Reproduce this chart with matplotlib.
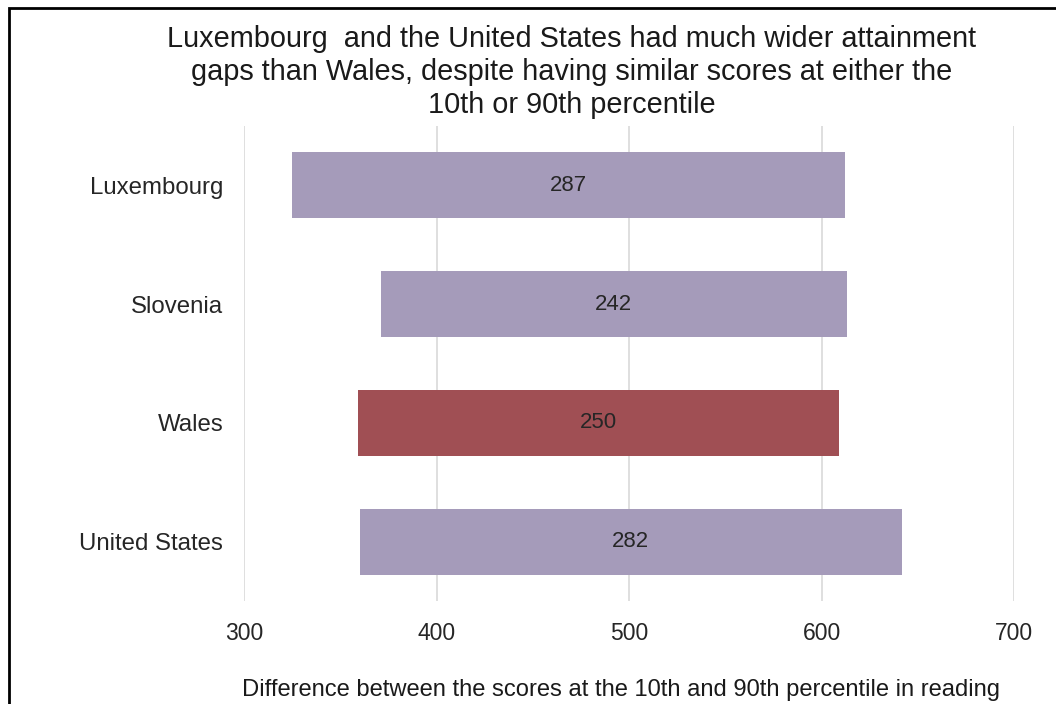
import matplotlib
matplotlib.use("Agg")
import matplotlib.pyplot as plt
from matplotlib.patches import Rectangle

plt.rcParams['font.family'] = ['Liberation Sans', 'DejaVu Sans']

# Reading scores at the 10th and 90th percentile, and the gap between them
countries = ["Luxembourg", "Slovenia", "Wales", "United States"]
p10 = [325, 371, 359, 360]
gap = [287, 242, 250, 282]
bar_colors = ["#A59BBA", "#A59BBA", "#A04F54", "#A59BBA"]
x_ticks = [300, 400, 500, 600, 700]

title_lines = ["Luxembourg  and the United States had much wider attainment",
               "gaps than Wales, despite having similar scores at either the",
               "10th or 90th percentile"]
xlabel = "Difference between the scores at the 10th and 90th percentile in reading"

W, H = 1056, 704
fig = plt.figure(figsize=(W / 100, H / 100), dpi=100)
fig.patch.set_facecolor("white")

# outer frame
fig.add_artist(Rectangle((9 / W, -0.05), 1.1, 1 - 8 / H + 0.05,
                         transform=fig.transFigure, fill=False,
                         edgecolor="black", linewidth=2))

ax = fig.add_axes([244 / W, 1 - 601 / H, 770 / W, 475 / H])
ypos = list(range(len(countries)))
ax.barh(ypos, gap, left=p10, height=0.555, color=bar_colors, zorder=3)

for y, l, g in zip(ypos, p10, gap):
    ax.text(l + g / 2, y, f"{g}", ha="center", va="center",
            fontsize=16, color="#262626", zorder=4)

ax.set_xlim(300, 700)
ax.set_ylim(len(countries) - 0.5, -0.5)
ax.set_xticks(x_ticks)
ax.set_xticklabels([str(t) for t in x_ticks], fontsize=16.5, color="#262626")
ax.set_yticks(ypos)
ax.set_yticklabels(countries, fontsize=17.3, color="#262626")
ax.tick_params(axis="both", length=0)
ax.tick_params(axis="x", pad=15)
ax.tick_params(axis="y", pad=15)
ax.grid(axis="x", color="#d9d9d9", linewidth=1.2, zorder=0)
for s in ax.spines.values():
    s.set_visible(False)

for i, line in enumerate(title_lines):
    fig.text(572 / W, 1 - (47 + 33 * i) / H, line, ha="center",
             va="baseline", fontsize=20.8, color="#1a1a1a")
fig.text(621 / W, 1 - 696 / H, xlabel, ha="center", va="baseline",
         fontsize=17.1, color="#1a1a1a")

fig.savefig("out.png", dpi=100)
